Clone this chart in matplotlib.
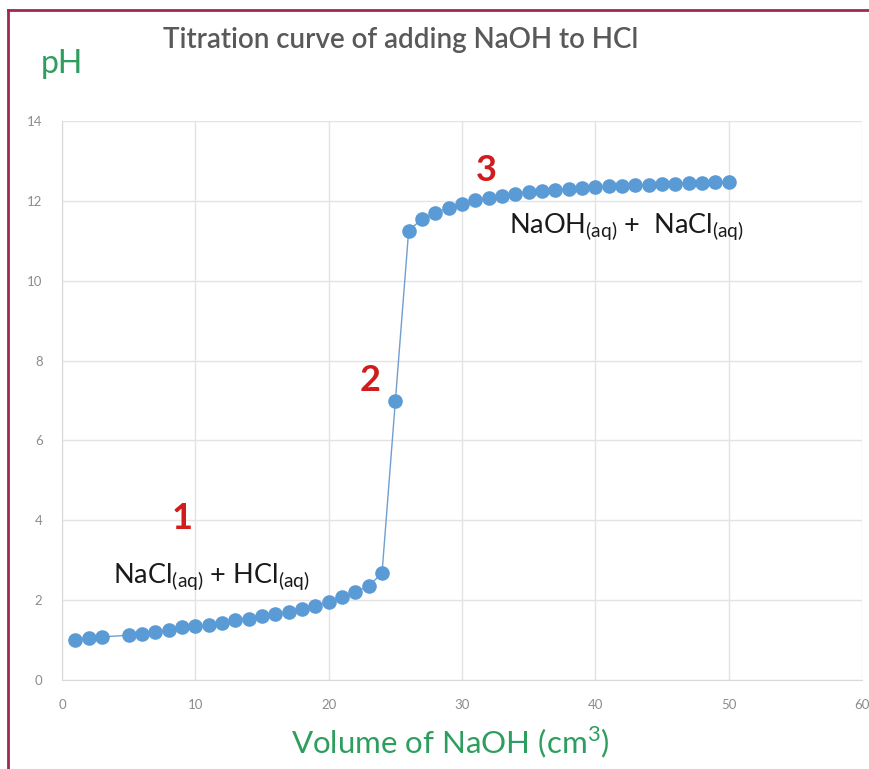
import matplotlib
matplotlib.use("Agg")
import matplotlib.pyplot as plt
from matplotlib.lines import Line2D

plt.rcParams["font.family"] = ["Lato", "DejaVu Sans"]

# volume of NaOH added (cm3) -- there is no reading at 4 cm3
volume = [1, 2, 3, 5, 6, 7, 8, 9, 10, 11, 12, 13, 14, 15, 16, 17, 18, 19, 20,
          21, 22, 23, 24, 25, 26, 27, 28, 29, 30, 31, 32, 33, 34, 35, 36, 37,
          38, 39, 40, 41, 42, 43, 44, 45, 46, 47, 48, 49, 50]
ph = [1.01, 1.06, 1.08, 1.12, 1.16, 1.20, 1.25, 1.32, 1.35, 1.37, 1.44, 1.50,
      1.54, 1.60, 1.65, 1.70, 1.79, 1.86, 1.96, 2.07, 2.20, 2.36, 2.67, 6.98,
      11.25, 11.55, 11.70, 11.83, 11.93, 12.02, 12.08, 12.12, 12.18, 12.22,
      12.25, 12.28, 12.30, 12.32, 12.34, 12.36, 12.37, 12.39, 12.40, 12.41,
      12.43, 12.44, 12.45, 12.46, 12.47]

x_ticks = [0, 10, 20, 30, 40, 50, 60]
y_ticks = [0, 2, 4, 6, 8, 10, 12, 14]

# region labels: (number, x, y) and (text, x, y) in data units
region_numbers = [("1", 9.0, 4.05), ("2", 23.1, 7.5), ("3", 31.8, 12.75)]
region_texts = [(r"NaCl$_{\mathregular{(aq)}}$ + HCl$_{\mathregular{(aq)}}$", 11.2, 2.6),
                (r"NaOH$_{\mathregular{(aq)}}$ +  NaCl$_{\mathregular{(aq)}}$", 42.3, 11.35)]

fig = plt.figure(figsize=(8.7, 7.69), dpi=100)
ax = fig.add_axes([62 / 870, 1 - 680 / 769, 800 / 870, 559 / 769])

ax.plot(volume, ph, color="#6f9fd0", linewidth=1.0, marker="o",
        markersize=9.5, markerfacecolor="#5b9bd5", markeredgecolor="#5b9bd5",
        zorder=3)

ax.set_xlim(0, 60)
ax.set_ylim(0, 14)
ax.set_xticks(x_ticks)
ax.set_yticks(y_ticks)
ax.grid(True, color="#e3e3e3", linewidth=1.0)
ax.set_axisbelow(True)
for side in ["top", "right"]:
    ax.spines[side].set_visible(False)
for side in ["left", "bottom"]:
    ax.spines[side].set_color("#d9d9d9")
ax.tick_params(length=0, labelsize=9.5, labelcolor="#8c8c8c", pad=14)

for label, x, y in region_numbers:
    ax.text(x, y, label, color="#d01c1c", fontsize=26, fontweight="bold",
            ha="center", va="center")
for label, x, y in region_texts:
    ax.text(x, y, label, color="#1a1a1a", fontsize=19.5, ha="center", va="center")

fig.text(401 / 870, 1 - 40 / 769, "Titration curve of adding NaOH to HCl",
         color="#595959", fontsize=20, fontweight="semibold", ha="center", va="center")
fig.text(62 / 870, 1 - 64 / 769, "pH", color="#2e9e5e", fontsize=23,
         ha="center", va="center")
fig.text(450 / 870, 1 - 742 / 769, r"Volume of NaOH (cm$^{\mathregular{3}}$)",
         color="#2e9e5e", fontsize=22.5, ha="center", va="center")

# maroon frame along the top and left edge
fig.add_artist(Line2D([8 / 870, 1], [1 - 10 / 769, 1 - 10 / 769],
                      transform=fig.transFigure, color="#9e2a4d", linewidth=2))
fig.add_artist(Line2D([8 / 870, 8 / 870], [0, 1 - 10 / 769],
                      transform=fig.transFigure, color="#9e2a4d", linewidth=2))

fig.savefig("out.png", dpi=100, facecolor="white")
